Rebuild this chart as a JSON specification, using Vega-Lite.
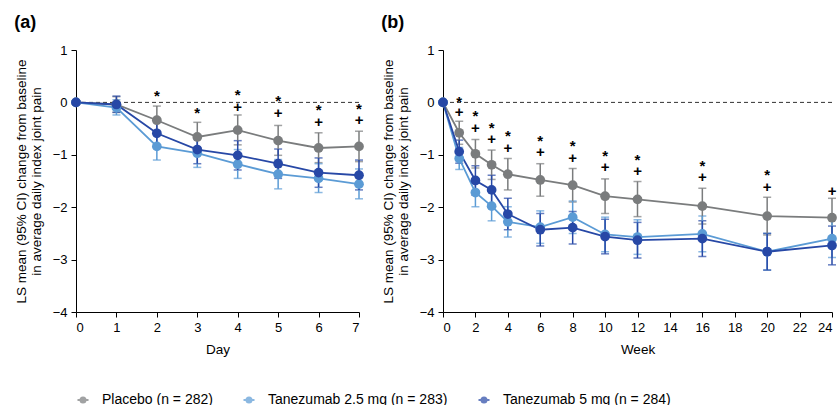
{
  "$schema": "https://vega.github.io/schema/vega-lite/v6.json",
  "padding": {"left": 14, "top": 14, "right": 0, "bottom": 0},
  "config": {
    "font": "Liberation Sans",
    "view": {"stroke": null},
    "axis": {"grid": false, "domainColor": "#000", "tickColor": "#000", "labelColor": "#000", "titleColor": "#000", "labelFontSize": 13, "titleFontSize": 13.5, "titleLineHeight": 15, "titleFontWeight": "normal", "tickSize": 5, "labelPadding": 4},
    "legend": {"orient": "bottom", "direction": "horizontal", "title": null, "offset": 37, "labelFontSize": 14, "labelColor": "#000", "labelLimit": 0, "labelOffset": 12, "columnPadding": 26, "symbolSize": 100, "symbolStrokeWidth": 2, "symbolType": "M-1.1,0H1.1M0.5,0A0.5,0.5,0,1,1,-0.5,0A0.5,0.5,0,1,1,0.5,0"},
    "title": {"fontSize": 18, "fontWeight": "bold", "anchor": "start", "color": "#000"}
  },
  "datasets": {
    "ser": [
      {"p": "a", "x": 0, "g": "Placebo (n = 282)", "m": 0, "lo": 0, "hi": 0},
      {"p": "a", "x": 1, "g": "Placebo (n = 282)", "m": -0.04, "lo": -0.19, "hi": 0.11},
      {"p": "a", "x": 2, "g": "Placebo (n = 282)", "m": -0.34, "lo": -0.61, "hi": -0.07},
      {"p": "a", "x": 3, "g": "Placebo (n = 282)", "m": -0.66, "lo": -0.93, "hi": -0.38},
      {"p": "a", "x": 4, "g": "Placebo (n = 282)", "m": -0.53, "lo": -0.81, "hi": -0.24},
      {"p": "a", "x": 5, "g": "Placebo (n = 282)", "m": -0.73, "lo": -1.01, "hi": -0.44},
      {"p": "a", "x": 6, "g": "Placebo (n = 282)", "m": -0.87, "lo": -1.15, "hi": -0.58},
      {"p": "a", "x": 7, "g": "Placebo (n = 282)", "m": -0.84, "lo": -1.13, "hi": -0.55},
      {"p": "a", "x": 0, "g": "Tanezumab 2.5 mg (n = 283)", "m": 0, "lo": 0, "hi": 0},
      {"p": "a", "x": 1, "g": "Tanezumab 2.5 mg (n = 283)", "m": -0.1, "lo": -0.24, "hi": 0.05},
      {"p": "a", "x": 2, "g": "Tanezumab 2.5 mg (n = 283)", "m": -0.84, "lo": -1.1, "hi": -0.57},
      {"p": "a", "x": 3, "g": "Tanezumab 2.5 mg (n = 283)", "m": -0.97, "lo": -1.24, "hi": -0.7},
      {"p": "a", "x": 4, "g": "Tanezumab 2.5 mg (n = 283)", "m": -1.18, "lo": -1.45, "hi": -0.9},
      {"p": "a", "x": 5, "g": "Tanezumab 2.5 mg (n = 283)", "m": -1.37, "lo": -1.65, "hi": -1.09},
      {"p": "a", "x": 6, "g": "Tanezumab 2.5 mg (n = 283)", "m": -1.45, "lo": -1.72, "hi": -1.17},
      {"p": "a", "x": 7, "g": "Tanezumab 2.5 mg (n = 283)", "m": -1.56, "lo": -1.84, "hi": -1.27},
      {"p": "a", "x": 0, "g": "Tanezumab 5 mg (n = 284)", "m": 0, "lo": 0, "hi": 0},
      {"p": "a", "x": 1, "g": "Tanezumab 5 mg (n = 284)", "m": -0.04, "lo": -0.19, "hi": 0.12},
      {"p": "a", "x": 2, "g": "Tanezumab 5 mg (n = 284)", "m": -0.59, "lo": -0.86, "hi": -0.32},
      {"p": "a", "x": 3, "g": "Tanezumab 5 mg (n = 284)", "m": -0.9, "lo": -1.17, "hi": -0.63},
      {"p": "a", "x": 4, "g": "Tanezumab 5 mg (n = 284)", "m": -1.01, "lo": -1.29, "hi": -0.73},
      {"p": "a", "x": 5, "g": "Tanezumab 5 mg (n = 284)", "m": -1.17, "lo": -1.45, "hi": -0.89},
      {"p": "a", "x": 6, "g": "Tanezumab 5 mg (n = 284)", "m": -1.34, "lo": -1.62, "hi": -1.06},
      {"p": "a", "x": 7, "g": "Tanezumab 5 mg (n = 284)", "m": -1.39, "lo": -1.67, "hi": -1.1},
      {"p": "b", "x": 0, "g": "Placebo (n = 282)", "m": 0, "lo": 0, "hi": 0},
      {"p": "b", "x": 1, "g": "Placebo (n = 282)", "m": -0.58, "lo": -0.8, "hi": -0.36},
      {"p": "b", "x": 2, "g": "Placebo (n = 282)", "m": -0.98, "lo": -1.25, "hi": -0.71},
      {"p": "b", "x": 3, "g": "Placebo (n = 282)", "m": -1.19, "lo": -1.47, "hi": -0.91},
      {"p": "b", "x": 4, "g": "Placebo (n = 282)", "m": -1.37, "lo": -1.67, "hi": -1.07},
      {"p": "b", "x": 6, "g": "Placebo (n = 282)", "m": -1.48, "lo": -1.79, "hi": -1.17},
      {"p": "b", "x": 8, "g": "Placebo (n = 282)", "m": -1.58, "lo": -1.9, "hi": -1.26},
      {"p": "b", "x": 10, "g": "Placebo (n = 282)", "m": -1.79, "lo": -2.12, "hi": -1.46},
      {"p": "b", "x": 12, "g": "Placebo (n = 282)", "m": -1.85, "lo": -2.18, "hi": -1.51},
      {"p": "b", "x": 16, "g": "Placebo (n = 282)", "m": -1.98, "lo": -2.32, "hi": -1.64},
      {"p": "b", "x": 20, "g": "Placebo (n = 282)", "m": -2.17, "lo": -2.53, "hi": -1.81},
      {"p": "b", "x": 24, "g": "Placebo (n = 282)", "m": -2.2, "lo": -2.57, "hi": -1.83},
      {"p": "b", "x": 0, "g": "Tanezumab 2.5 mg (n = 283)", "m": 0, "lo": 0, "hi": 0},
      {"p": "b", "x": 1, "g": "Tanezumab 2.5 mg (n = 283)", "m": -1.07, "lo": -1.28, "hi": -0.86},
      {"p": "b", "x": 2, "g": "Tanezumab 2.5 mg (n = 283)", "m": -1.72, "lo": -1.99, "hi": -1.45},
      {"p": "b", "x": 3, "g": "Tanezumab 2.5 mg (n = 283)", "m": -1.98, "lo": -2.26, "hi": -1.7},
      {"p": "b", "x": 4, "g": "Tanezumab 2.5 mg (n = 283)", "m": -2.28, "lo": -2.57, "hi": -1.99},
      {"p": "b", "x": 6, "g": "Tanezumab 2.5 mg (n = 283)", "m": -2.38, "lo": -2.69, "hi": -2.07},
      {"p": "b", "x": 8, "g": "Tanezumab 2.5 mg (n = 283)", "m": -2.19, "lo": -2.5, "hi": -1.88},
      {"p": "b", "x": 10, "g": "Tanezumab 2.5 mg (n = 283)", "m": -2.52, "lo": -2.85, "hi": -2.19},
      {"p": "b", "x": 12, "g": "Tanezumab 2.5 mg (n = 283)", "m": -2.57, "lo": -2.9, "hi": -2.24},
      {"p": "b", "x": 16, "g": "Tanezumab 2.5 mg (n = 283)", "m": -2.51, "lo": -2.85, "hi": -2.17},
      {"p": "b", "x": 20, "g": "Tanezumab 2.5 mg (n = 283)", "m": -2.85, "lo": -3.2, "hi": -2.5},
      {"p": "b", "x": 24, "g": "Tanezumab 2.5 mg (n = 283)", "m": -2.6, "lo": -2.96, "hi": -2.24},
      {"p": "b", "x": 0, "g": "Tanezumab 5 mg (n = 284)", "m": 0, "lo": 0, "hi": 0},
      {"p": "b", "x": 1, "g": "Tanezumab 5 mg (n = 284)", "m": -0.94, "lo": -1.16, "hi": -0.72},
      {"p": "b", "x": 2, "g": "Tanezumab 5 mg (n = 284)", "m": -1.49, "lo": -1.77, "hi": -1.21},
      {"p": "b", "x": 3, "g": "Tanezumab 5 mg (n = 284)", "m": -1.67, "lo": -1.95, "hi": -1.39},
      {"p": "b", "x": 4, "g": "Tanezumab 5 mg (n = 284)", "m": -2.13, "lo": -2.43, "hi": -1.83},
      {"p": "b", "x": 6, "g": "Tanezumab 5 mg (n = 284)", "m": -2.43, "lo": -2.74, "hi": -2.12},
      {"p": "b", "x": 8, "g": "Tanezumab 5 mg (n = 284)", "m": -2.39, "lo": -2.7, "hi": -2.08},
      {"p": "b", "x": 10, "g": "Tanezumab 5 mg (n = 284)", "m": -2.56, "lo": -2.89, "hi": -2.23},
      {"p": "b", "x": 12, "g": "Tanezumab 5 mg (n = 284)", "m": -2.63, "lo": -2.97, "hi": -2.29},
      {"p": "b", "x": 16, "g": "Tanezumab 5 mg (n = 284)", "m": -2.6, "lo": -2.94, "hi": -2.26},
      {"p": "b", "x": 20, "g": "Tanezumab 5 mg (n = 284)", "m": -2.85, "lo": -3.2, "hi": -2.5},
      {"p": "b", "x": 24, "g": "Tanezumab 5 mg (n = 284)", "m": -2.73, "lo": -3.1, "hi": -2.36}
    ],
    "marks": [
      {"p": "a", "x": 2, "y": 0.12, "t": "*"},
      {"p": "a", "x": 3, "y": -0.21, "t": "*"},
      {"p": "a", "x": 4, "y": 0.14, "t": "*"},
      {"p": "a", "x": 4, "y": -0.08, "t": "+"},
      {"p": "a", "x": 5, "y": 0.03, "t": "*"},
      {"p": "a", "x": 5, "y": -0.2, "t": "+"},
      {"p": "a", "x": 6, "y": -0.15, "t": "*"},
      {"p": "a", "x": 6, "y": -0.38, "t": "+"},
      {"p": "a", "x": 7, "y": -0.12, "t": "*"},
      {"p": "a", "x": 7, "y": -0.34, "t": "+"},
      {"p": "b", "x": 1, "y": 0.01, "t": "*"},
      {"p": "b", "x": 1, "y": -0.18, "t": "+"},
      {"p": "b", "x": 2, "y": -0.26, "t": "*"},
      {"p": "b", "x": 2, "y": -0.49, "t": "+"},
      {"p": "b", "x": 3, "y": -0.49, "t": "*"},
      {"p": "b", "x": 3, "y": -0.7, "t": "+"},
      {"p": "b", "x": 4, "y": -0.65, "t": "*"},
      {"p": "b", "x": 4, "y": -0.87, "t": "+"},
      {"p": "b", "x": 6, "y": -0.74, "t": "*"},
      {"p": "b", "x": 6, "y": -0.95, "t": "+"},
      {"p": "b", "x": 8, "y": -0.84, "t": "*"},
      {"p": "b", "x": 8, "y": -1.06, "t": "+"},
      {"p": "b", "x": 10, "y": -1.03, "t": "*"},
      {"p": "b", "x": 10, "y": -1.24, "t": "+"},
      {"p": "b", "x": 12, "y": -1.1, "t": "*"},
      {"p": "b", "x": 12, "y": -1.3, "t": "+"},
      {"p": "b", "x": 16, "y": -1.21, "t": "*"},
      {"p": "b", "x": 16, "y": -1.43, "t": "+"},
      {"p": "b", "x": 20, "y": -1.38, "t": "*"},
      {"p": "b", "x": 20, "y": -1.61, "t": "+"},
      {"p": "b", "x": 24, "y": -1.7, "t": "+"}
    ],
    "zero": [{"z": 0}]
  },
  "spacing": 17,
  "resolve": {"scale": {"color": "shared"}},
  "hconcat": [
    {
      "title": {"text": "(a)", "offset": 12},
      "width": 283,
      "height": 262,
      "encoding": {
        "x": {"type": "quantitative", "scale": {"domain": [0, 7], "nice": false}, "axis": {"title": "Day", "values": [0,1,2,3,4,5,6,7], "titlePadding": 8}},
        "y": {"type": "quantitative", "scale": {"domain": [-4, 1], "nice": false}, "axis": {"title": ["LS mean (95% CI) change from baseline", "in average daily index joint pain"], "values": [-4,-3,-2,-1,0,1], "titlePadding": 9}}
      },
      "layer": [
        {"data": {"name": "zero"}, "mark": {"type": "rule", "strokeDash": [4, 3], "color": "#333", "strokeWidth": 1}, "encoding": {"y": {"field": "z", "type": "quantitative"}}},
        {"data": {"name": "ser"}, "transform": [{"filter": "datum.p == 'a' && datum.x > 0"}], "mark": {"type": "errorbar", "ticks": {"size": 8}, "thickness": 1.5}, "encoding": {"x": {"field": "x"}, "y": {"field": "lo"}, "y2": {"field": "hi"}, "color": {"field": "g", "type": "nominal"}}},
        {"data": {"name": "ser"}, "transform": [{"filter": "datum.p == 'a'"}], "mark": {"type": "line", "strokeWidth": 1.8, "point": {"filled": true, "size": 95, "opacity": 1}}, "encoding": {"x": {"field": "x"}, "y": {"field": "m"}, "color": {"field": "g", "type": "nominal", "scale": {"domain": ["Placebo (n = 282)", "Tanezumab 2.5 mg (n = 283)", "Tanezumab 5 mg (n = 284)"], "range": ["#7a7c7d", "#5b9bd5", "#2748a6"]}}}},
        {"data": {"name": "marks"}, "transform": [{"filter": "datum.p == 'a'"}], "mark": {"type": "text", "fontSize": 15, "fontWeight": "bold", "color": "#000", "baseline": "middle"}, "encoding": {"x": {"field": "x"}, "y": {"field": "y"}, "text": {"field": "t"}}}
      ]
    },
    {
      "title": {"text": "(b)", "offset": 12},
      "width": 389,
      "height": 262,
      "encoding": {
        "x": {"type": "quantitative", "scale": {"domain": [0, 24], "nice": false}, "axis": {"title": "Week", "values": [0,2,4,6,8,10,12,14,16,18,20,22,24], "titlePadding": 8, "labelFlush": true}},
        "y": {"type": "quantitative", "scale": {"domain": [-4, 1], "nice": false}, "axis": {"title": ["LS mean (95% CI) change from baseline", "in average daily index joint pain"], "values": [-4,-3,-2,-1,0,1], "titlePadding": 9}}
      },
      "layer": [
        {"data": {"name": "zero"}, "mark": {"type": "rule", "strokeDash": [4, 3], "color": "#333", "strokeWidth": 1}, "encoding": {"y": {"field": "z", "type": "quantitative"}}},
        {"data": {"name": "ser"}, "transform": [{"filter": "datum.p == 'b' && datum.x > 0"}], "mark": {"type": "errorbar", "ticks": {"size": 8}, "thickness": 1.5}, "encoding": {"x": {"field": "x"}, "y": {"field": "lo"}, "y2": {"field": "hi"}, "color": {"field": "g", "type": "nominal"}}},
        {"data": {"name": "ser"}, "transform": [{"filter": "datum.p == 'b'"}], "mark": {"type": "line", "strokeWidth": 1.8, "point": {"filled": true, "size": 95, "opacity": 1}}, "encoding": {"x": {"field": "x"}, "y": {"field": "m"}, "color": {"field": "g", "type": "nominal"}}},
        {"data": {"name": "marks"}, "transform": [{"filter": "datum.p == 'b'"}], "mark": {"type": "text", "fontSize": 15, "fontWeight": "bold", "color": "#000", "baseline": "middle"}, "encoding": {"x": {"field": "x"}, "y": {"field": "y"}, "text": {"field": "t"}}}
      ]
    }
  ]
}
